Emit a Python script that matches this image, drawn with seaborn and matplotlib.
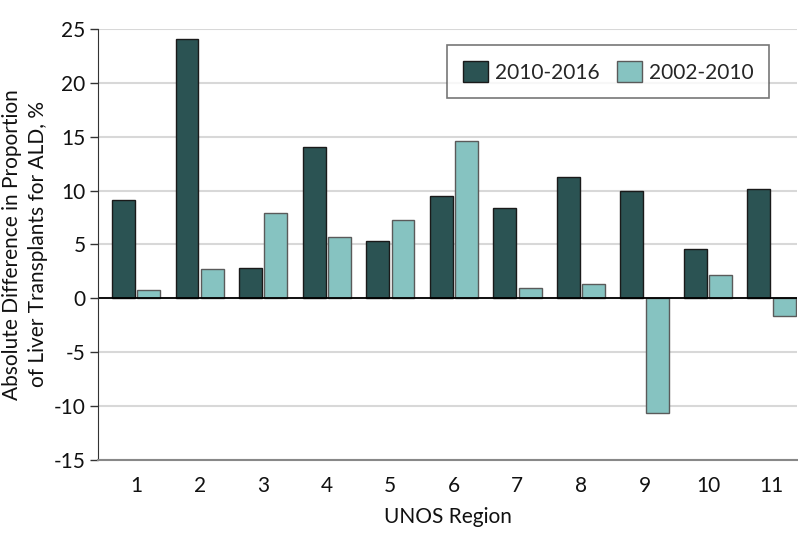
import matplotlib
matplotlib.use("Agg")
import matplotlib.pyplot as plt
import seaborn as sns
import pandas as pd

regions = ["1", "2", "3", "4", "5", "6", "7", "8", "9", "10", "11"]
diff_2010_2016 = [9.1, 24.1, 2.8, 14.0, 5.3, 9.5, 8.4, 11.3, 10.0, 4.6, 10.1]
diff_2002_2010 = [0.75, 2.7, 7.95, 5.7, 7.25, 14.6, 0.95, 1.3, -10.65, 2.15, -1.65]
periods = ["2010-2016", "2002-2010"]

df = pd.DataFrame({
    "region": regions * 2,
    "value": diff_2010_2016 + diff_2002_2010,
    "period": [periods[0]] * len(regions) + [periods[1]] * len(regions),
})

sns.set_style("white")
plt.rcParams["font.family"] = ["Lato", "DejaVu Sans"]
plt.rcParams["axes.unicode_minus"] = False

fig = plt.figure(figsize=(7.98, 5.45), dpi=100)
ax = fig.add_axes([0.1228, 0.156, 0.876, 0.791])

pal = {"2010-2016": "#2b5353", "2002-2010": "#86c3c1"}
sns.barplot(data=df, x="region", y="value", hue="period", order=regions,
            hue_order=periods, palette=pal, width=0.8, gap=0.1,
            linewidth=1.0, saturation=1, ax=ax)
edges = ["#1a1a1a", "#5a5a5a"]
for cont, ec in zip(ax.containers, edges):
    for bar in cont:
        bar.set_edgecolor(ec)

ax.set_ylim(-15, 25)
ax.set_yticks(range(-15, 26, 5))
ax.set_xlim(-0.6, 10.4)
ax.yaxis.grid(True, color="#d8d8d8", linewidth=1.5)
ax.set_axisbelow(True)
ax.axhline(0, color="black", linewidth=1.3, zorder=1)

for s in ["top", "right"]:
    ax.spines[s].set_visible(False)
ax.spines["left"].set_color("#333333")
ax.spines["bottom"].set_color("#888888")
ax.spines["bottom"].set_linewidth(1.5)

ax.tick_params(axis="y", left=True, length=6, width=1, color="#333333",
               labelsize=15, pad=3, labelcolor="#111111")
ax.tick_params(axis="x", bottom=False, labelsize=15, pad=8, labelcolor="#111111")

ax.set_xlabel("UNOS Region", fontsize=15, labelpad=8, color="#111111")
ax.set_ylabel("Absolute Difference in Proportion\nof Liver Transplants for ALD, %",
              fontsize=15, labelpad=4, color="#111111", linespacing=1.35)

handles, labels = ax.get_legend_handles_labels()
for h, ec in zip(handles, edges):
    h.set_edgecolor(ec)
leg = ax.legend(handles, labels, loc="upper right", bbox_to_anchor=(0.96, 0.962),
                ncol=2, fontsize=15, frameon=True, fancybox=False,
                edgecolor="#555555", handlelength=1.2, handleheight=1.2,
                columnspacing=0.8, borderpad=0.75, handletextpad=0.35,
                borderaxespad=0)
leg.get_frame().set_linewidth(1.2)

fig.savefig("out.png", dpi=100)
